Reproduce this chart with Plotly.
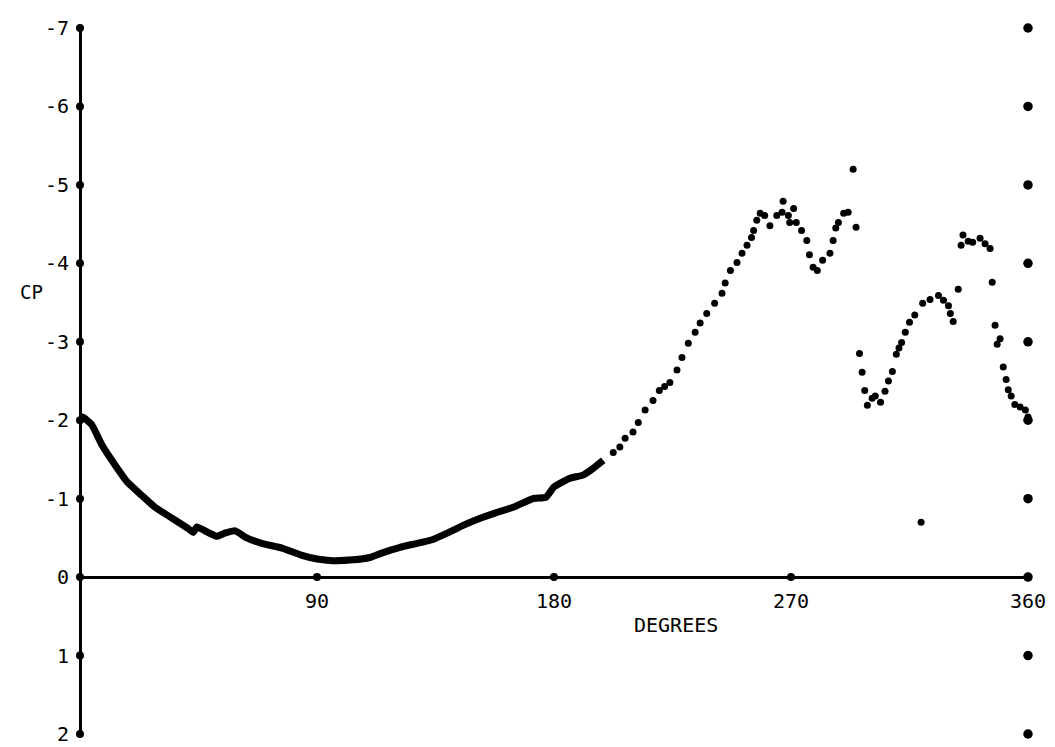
import plotly.graph_objects as go

# Pressure coefficient around the cylinder, smooth front section (degrees, CP)
deg_front = [0, 1, 4.5, 8.4, 13.3, 18, 23.5, 28.5, 35, 41, 43, 44.4, 48.6, 52, 55, 59,
             62.7, 69, 76.7, 84, 90, 96, 103.7, 110, 114, 121.5, 128, 134, 139.4, 145.5,
             152, 157, 164.5, 172, 177, 180, 186, 191, 195, 198.7]
cp_front = [-2.0, -2.04, -1.94, -1.68, -1.43, -1.21, -1.04, -0.89, -0.75, -0.62, -0.57,
            -0.64, -0.57, -0.52, -0.56, -0.59, -0.51, -0.43, -0.37, -0.28, -0.23, -0.21,
            -0.22, -0.25, -0.3, -0.38, -0.43, -0.48, -0.56, -0.66, -0.75, -0.81, -0.89,
            -1.0, -1.02, -1.15, -1.26, -1.3, -1.39, -1.49]

# Scattered samples on the rear side
deg_rear = [202.5, 205, 207, 210, 212, 214.6, 217.6, 220, 222, 224, 226.7, 228.6, 231,
            233.6, 235.5, 238, 241, 243.8, 245, 247, 249.5, 251.4, 253.3, 255, 255.8, 257,
            258.3, 260, 262, 264.6, 266.6, 267, 269, 269.5, 271, 272, 274, 276, 277, 278.4,
            280, 282, 284.8, 286, 287, 288, 290, 291.7, 293.6, 294.7,
            296, 297, 298, 299, 300.8, 302, 304, 305.7, 307, 308.5, 310, 311, 312, 313.4,
            315, 317, 319.4, 320, 322.8, 326, 327.9, 329.8, 330.5, 331.6, 333.5, 334.6,
            335.3, 337.3, 339, 341.8, 343.7, 345.6, 346.4, 347.5, 348.3, 349.4, 350.6,
            351.7, 352.5, 353.6, 355, 357, 359, 360]
cp_rear = [-1.59, -1.66, -1.77, -1.85, -1.97, -2.13, -2.25, -2.38, -2.43, -2.48, -2.64,
           -2.80, -2.98, -3.12, -3.24, -3.36, -3.49, -3.62, -3.75, -3.91, -4.01, -4.13,
           -4.23, -4.33, -4.42, -4.55, -4.64, -4.61, -4.48, -4.61, -4.65, -4.79, -4.61,
           -4.52, -4.70, -4.52, -4.42, -4.29, -4.11, -3.95, -3.91, -4.04, -4.13, -4.29,
           -4.45, -4.52, -4.64, -4.65, -5.2, -4.46,
           -2.85, -2.61, -2.38, -2.19, -2.28, -2.31, -2.23, -2.37, -2.5, -2.62, -2.84,
           -2.92, -2.99, -3.12, -3.25, -3.34, -0.70, -3.49, -3.54, -3.59, -3.53, -3.46,
           -3.36, -3.26, -3.67, -4.23, -4.36, -4.28, -4.27, -4.32, -4.25, -4.19, -3.76,
           -3.21, -2.97, -3.04, -2.68, -2.52, -2.39, -2.31, -2.2, -2.17, -2.13, -2.04]

# Axis ticks
y_ticks = [-7, -6, -5, -4, -3, -2, -1, 0, 1, 2]
y_tick_text = ["-7", "-6", "-5", "-4", "-3", "-2", "-1", "0", "1", "2"]
x_ticks = [90, 180, 270, 360]
x_tick_text = ["90", "180", "270", "360"]

FONT = "DejaVu Sans Mono"
INK = "black"

fig = go.Figure()

# tick dots on the CP axis (x = 0) and degree axis (y = 0)
fig.add_trace(go.Scatter(x=[0] * len(y_ticks), y=y_ticks, mode="markers",
                         marker=dict(size=8, color=INK), cliponaxis=False,
                         hoverinfo="skip", showlegend=False))
fig.add_trace(go.Scatter(x=x_ticks, y=[0] * len(x_ticks), mode="markers",
                         marker=dict(size=8, color=INK), cliponaxis=False,
                         hoverinfo="skip", showlegend=False))
# scale dots along the right edge
fig.add_trace(go.Scatter(x=[360] * len(y_ticks), y=y_ticks, mode="markers",
                         marker=dict(size=9.5, color=INK), cliponaxis=False,
                         hoverinfo="skip", showlegend=False))

fig.add_trace(go.Scatter(x=deg_front, y=cp_front, mode="lines",
                         line=dict(color=INK, width=7, shape="spline", smoothing=0.4),
                         cliponaxis=False, showlegend=False))
fig.add_trace(go.Scatter(x=deg_rear, y=cp_rear, mode="markers",
                         marker=dict(size=7, color=INK),
                         cliponaxis=False, showlegend=False))

fig.update_layout(
    width=1055, height=747,
    margin=dict(l=80, r=27, t=28, b=13, autoexpand=False),
    paper_bgcolor="white", plot_bgcolor="white",
    font=dict(family=FONT, size=20, color=INK),
    xaxis=dict(range=[0, 360], showgrid=False, showline=False, automargin=False,
               zeroline=True, zerolinecolor=INK, zerolinewidth=3,
               tickvals=x_ticks, ticktext=x_tick_text,
               ticks="outside", ticklen=6, tickcolor="rgba(0,0,0,0)",
               anchor="free", position=2 / 9,
               tickfont=dict(family=FONT, size=20, color=INK)),
    yaxis=dict(range=[2, -7], showgrid=False, showline=False, automargin=False,
               zeroline=True, zerolinecolor=INK, zerolinewidth=3,
               tickvals=y_ticks, ticktext=y_tick_text,
               ticks="outside", ticklen=6, tickcolor="rgba(0,0,0,0)",
               tickfont=dict(family=FONT, size=20, color=INK)),
    annotations=[
        dict(text="CP", xref="paper", yref="y", x=-0.0654, y=-3.64,
             showarrow=False, font=dict(family=FONT, size=19, color=INK)),
        dict(text="DEGREES", xref="x", yref="y", x=226.4, y=0.61,
             showarrow=False, font=dict(family=FONT, size=20, color=INK)),
    ],
)

fig.write_html("out.html")
